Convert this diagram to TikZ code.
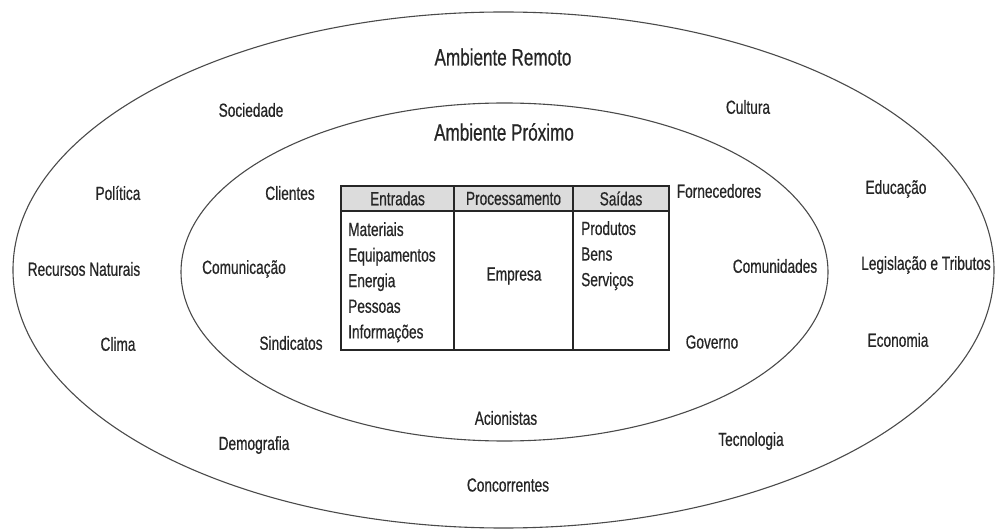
\documentclass[tikz,border=0pt]{standalone}
\usepackage{fontspec}
\setmainfont{Liberation Sans}[FakeStretch=0.72, FakeBold=0.6]
\usetikzlibrary{shapes.geometric}
\definecolor{ink}{HTML}{262626}
\definecolor{rim}{HTML}{4A4A4A}
\definecolor{headfill}{HTML}{DCDCDC}
\begin{document}
\begin{tikzpicture}[x=1pt,y=-1pt,
  ring/.style={ellipse, draw=rim, line width=1.1pt, inner sep=0pt},
  lbl/.style={text=ink, font=\fontsize{19}{23}\selectfont, inner sep=0pt},
  title/.style={text=ink, font=\fontsize{23.75}{28}\selectfont, inner sep=0pt},
  cell/.style={draw=ink, line width=1.3pt, inner sep=0pt, text=ink,
    font=\fontsize{19}{23}\selectfont},
  hcell/.style={cell, fill=headfill, minimum height=25pt},
  bcell/.style={cell, minimum height=139pt},
  list/.style={lbl, anchor=north west, align=left,
    font=\fontsize{19}{25.6}\selectfont},
]
\useasboundingbox (0,0) rectangle (996,529);

% the two environments
\node[ring, minimum width=981pt, minimum height=516pt] (remoto) at (503.5,270) {};
\node[ring, minimum width=647pt, minimum height=338pt] (proximo) at (504.5,272) {};

\node[title] (tremoto) at (503,57) {Ambiente Remoto};
\node[title] (tproximo) at (504,132) {Ambiente Próximo};

% remote environment factors
\node[lbl] (sociedade) at (251,110) {Sociedade};
\node[lbl] (cultura) at (748,107) {Cultura};
\node[lbl] (politica) at (118,193) {Política};
\node[lbl] (educacao) at (896,189) {Educação};
\node[lbl] (recursos) at (84,269) {Recursos Naturais};
\node[lbl] (legislacao) at (926,265) {Legislação e Tributos};
\node[lbl] (clima) at (118,344) {Clima};
\node[lbl] (economia) at (898,340) {Economia};
\node[lbl] (demografia) at (254,445) {Demografia};
\node[lbl] (tecnologia) at (751,441) {Tecnologia};
\node[lbl] (concorrentes) at (508,485) {Concorrentes};

% near environment factors
\node[lbl] (clientes) at (290,193) {Clientes};
\node[lbl] (fornecedores) at (719,191) {Fornecedores};
\node[lbl] (comunicacao) at (244,269) {Comunicação};
\node[lbl] (comunidades) at (775,266) {Comunidades};
\node[lbl] (sindicatos) at (291,343) {Sindicatos};
\node[lbl] (governo) at (712,342) {Governo};
\node[lbl] (acionistas) at (506,418) {Acionistas};

% the company as a system: inputs, processing, outputs
\node[bcell, minimum width=113pt] (bin) at (397.5,280.5) {};
\node[bcell, minimum width=119pt] (bproc) at (513.5,280.5) {};
\node[bcell, minimum width=96pt] (bout) at (621,280.5) {};
\node[hcell, minimum width=113pt] (hin) at (397.5,198.5) {Entradas};
\node[hcell, minimum width=119pt] (hproc) at (513.5,198.5) {Processamento};
\node[hcell, minimum width=96pt] (hout) at (621,198.5) {Saídas};

\node[list] (entradas) at (348,222) {Materiais\\Equipamentos\\Energia\\Pessoas\\Informações};
\node[lbl] (empresa) at (514,276) {Empresa};
\node[list] (saidas) at (581,221) {Produtos\\Bens\\Serviços};
\end{tikzpicture}
\end{document}
